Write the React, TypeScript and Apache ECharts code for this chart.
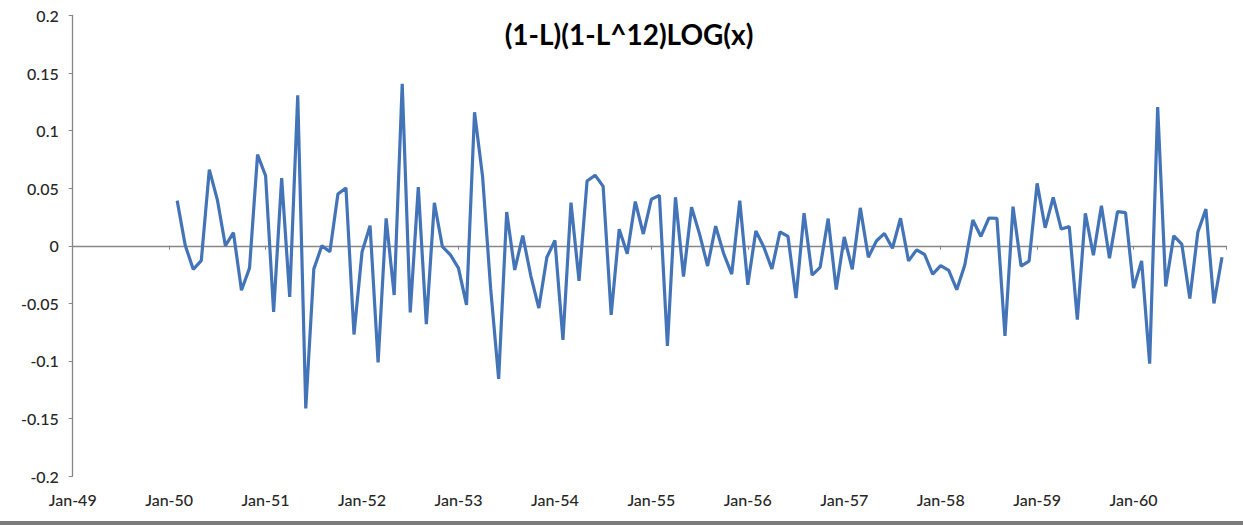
import { useEffect, useRef } from "react";
import * as echarts from "echarts";

const chartTitle = "(1-L)(1-L^12)LOG(x)";
const tickLabels = [
  "Jan-49", "Jan-50", "Jan-51", "Jan-52", "Jan-53", "Jan-54",
  "Jan-55", "Jan-56", "Jan-57", "Jan-58", "Jan-59", "Jan-60",
];
// months since Jan-49 of the first value (Feb-50)
const firstMonth = 13;
const values1950 = [0.0392, 0.0004, -0.0205, -0.0129, 0.0662, 0.0399, 0.0, 0.0114, -0.0387, -0.0194, 0.0792];
const values1951 = [0.0608, -0.0575, 0.0587, -0.0445, 0.1307, -0.1413, -0.0203, 0.0, -0.0052, 0.0449, 0.0502, -0.0771];
const values1952 = [-0.0054, 0.0174, -0.1014, 0.0238, -0.0428, 0.1407, -0.0579, 0.0509, -0.0682, 0.0373, -0.0008, -0.008];
const values1953 = [-0.0194, -0.0513, 0.116, 0.06, -0.0369, -0.1157, 0.0293, -0.021, 0.0089, -0.0261, -0.0541, -0.01];
const values1954 = [0.0046, -0.0817, 0.0374, -0.0304, 0.0562, 0.0613, 0.0516, -0.0601, 0.0144, -0.0069, 0.0384, 0.0102];
const values1955 = [0.0404, 0.0438, -0.0869, 0.0421, -0.0267, 0.0335, 0.0101, -0.0176, 0.017, -0.0068, -0.0246, 0.0391];
const values1956 = [-0.0339, 0.0129, -0.0013, -0.0202, 0.0121, 0.0081, -0.0454, 0.0283, -0.0255, -0.0187, 0.0236, -0.0381];
const values1957 = [0.0076, -0.0205, 0.0329, -0.01, 0.0041, 0.0107, -0.0022, 0.0239, -0.0131, -0.0036, -0.0076, -0.0247];
const values1958 = [-0.0172, -0.0214, -0.0382, -0.0167, 0.0223, 0.0081, 0.0241, 0.0238, -0.0782, 0.034, -0.0177, -0.0133];
const values1959 = [0.0542, 0.0156, 0.042, 0.0145, 0.0166, -0.0642, 0.0282, -0.0082, 0.0347, -0.0108, 0.0296, 0.0287];
const values1960 = [-0.0368, -0.0131, -0.1024, 0.1205, -0.0353, 0.0086, 0.0014, -0.0459, 0.012, 0.0318, -0.0501, -0.01];

const allValues = [
  ...values1950, ...values1951, ...values1952, ...values1953, ...values1954, ...values1955,
  ...values1956, ...values1957, ...values1958, ...values1959, ...values1960,
];

const axisGray = "#868686";
const labelColor = "#262626";
const fontFamily = "Lato, 'Open Sans', sans-serif";

export default function App() {
  const ref = useRef<HTMLDivElement>(null);
  useEffect(() => {
    if (!ref.current) return;
    const chart = echarts.init(ref.current, undefined, { renderer: "svg" });
    const data = allValues.map((v, i) => [firstMonth + i, v]);
    chart.setOption({
      animation: false,
      backgroundColor: "#ffffff",
      title: {
        text: chartTitle,
        left: 624,
        top: 15,
        textAlign: "center",
        textStyle: { fontFamily, fontWeight: "bold", fontSize: 28, color: "#000000" },
      },
      grid: { left: 72.7, right: 17, top: 15.5, bottom: 49, containLabel: false },
      xAxis: [
        {
          type: "value",
          min: 0,
          max: 143.5,
          interval: 12,
          position: "bottom",
          axisLine: { show: false, onZero: false },
          axisTick: { show: false },
          splitLine: { show: false },
          axisLabel: {
            formatter: (v: number) => (v % 12 === 0 ? tickLabels[v / 12] ?? "" : ""),
            margin: 15,
            fontFamily,
            fontSize: 16,
            fontWeight: 500,
            color: labelColor,
            showMaxLabel: false,
          },
        },
        {
          type: "value",
          min: 0,
          max: 143.5,
          interval: 12,
          position: "bottom",
          axisLine: { show: true, onZero: true, lineStyle: { color: axisGray, width: 1.3 } },
          axisTick: { show: true, length: 4, lineStyle: { color: axisGray, width: 1 } },
          axisLabel: { show: false },
          splitLine: { show: false },
        },
      ],
      yAxis: {
        type: "value",
        min: -0.2,
        max: 0.2,
        interval: 0.05,
        axisLine: { show: true, onZero: false, lineStyle: { color: axisGray, width: 1.3 } },
        axisTick: { show: true, length: 4, lineStyle: { color: axisGray } },
        splitLine: { show: false },
        axisLabel: {
          formatter: (v: number) => String(Number(v.toFixed(2))),
          margin: 14,
          fontFamily,
          fontSize: 16,
          fontWeight: 500,
          color: labelColor,
        },
      },
      graphic: [
        {
          type: "rect",
          left: 0,
          top: 521,
          shape: { width: 1243, height: 4 },
          style: { fill: "#7a7a7a" },
        },
      ],
      series: [
        {
          type: "line",
          xAxisIndex: 0,
          data,
          symbol: "none",
          lineStyle: { color: "#4474b8", width: 3.2 },
        },
      ],
    });
    return () => chart.dispose();
  }, []);
  return (
    <div
      ref={ref}
      style={{ position: "fixed", left: 0, top: 0, width: 1243, height: 525 }}
    />
  );
}
